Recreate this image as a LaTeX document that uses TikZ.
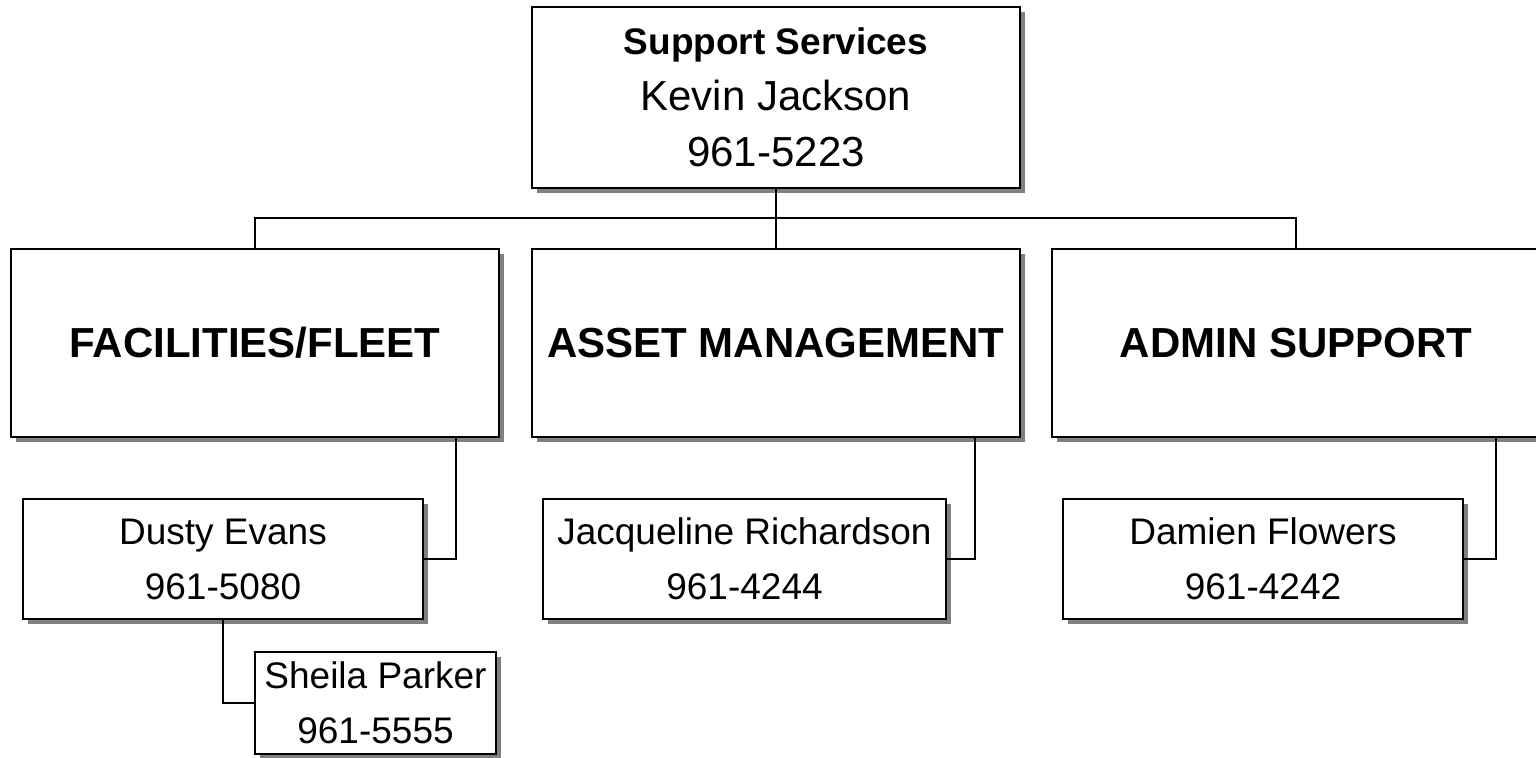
\documentclass[tikz,border=0pt]{standalone}
\usepackage{fontspec}
\setmainfont{Liberation Sans}
\usetikzlibrary{shadows,calc}
\tikzset{
  box/.style={draw=black, line width=1pt, fill=white, inner sep=0pt,
    drop shadow={shadow xshift=2.5pt, shadow yshift=-2.5pt, fill=black!50, opacity=1},
    align=center},
  bigbox/.style={box, minimum width=244pt, minimum height=94pt,
    font=\fontsize{21}{27.5}\selectfont\bfseries},
  smallbox/.style={box, minimum width=200pt, minimum height=60pt,
    font=\fontsize{18.5}{27.5}\selectfont},
  wire/.style={draw=black, line width=1pt}
}
\begin{document}
\begin{tikzpicture}[x=0.5pt, y=-0.5pt]
\useasboundingbox (0,0) rectangle (1536,757);

\node[box, minimum width=244pt, minimum height=90.5pt,
      font=\fontsize{21}{28}\selectfont] (top) at (776,97.5)
  {{\fontsize{18.5}{28}\selectfont\bfseries Support Services}\\
   Kevin Jackson\\
   961-5223};

\node[bigbox] (fac) at (255,343) {FACILITIES/FLEET};
\node[bigbox] (asset) at (776,343) {ASSET MANAGEMENT};
\node[bigbox] (admin) at (1296,343) {ADMIN SUPPORT};

\node[smallbox] (dusty) at (223,559) {Dusty Evans\\961-5080};
\node[smallbox, minimum width=201.5pt] (jac) at (744.5,558.5) {Jacqueline Richardson\\961-4244};
\node[smallbox] (dam) at (1263,559) {Damien Flowers\\961-4242};
\node[smallbox, minimum width=120.5pt, minimum height=51pt] (sheila) at (375.5,703) {Sheila Parker\\961-5555};

\coordinate (bus) at (776,218);
\draw[wire] (top.south) -- (bus);
\draw[wire] (fac.north) |- (bus) -| (admin.north);
\draw[wire] (bus) -- (asset.north);

\draw[wire] (dusty.east) -| ($(fac.south east)+(-44,0)$);
\draw[wire] (jac.east) -| ($(asset.south east)+(-46,0)$);
\draw[wire] (dam.east) -| ($(admin.south east)+(-45,0)$);
\draw[wire] (dusty.south) |- (sheila.west);
\end{tikzpicture}
\end{document}
